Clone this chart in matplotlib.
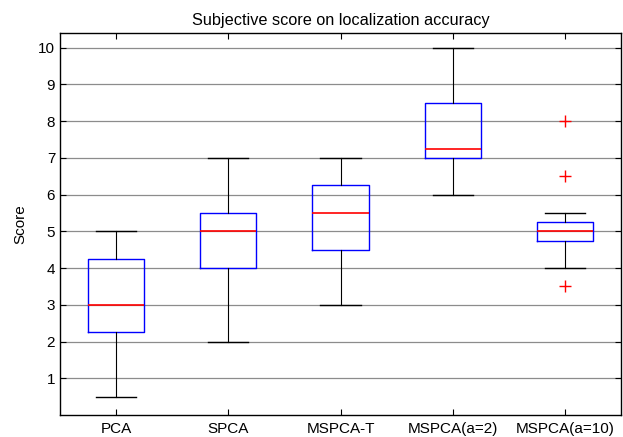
import matplotlib
matplotlib.use("Agg")
import matplotlib.pyplot as plt

categories = ["PCA", "SPCA", "MSPCA-T", "MSPCA(a=2)", "MSPCA(a=10)"]
whislo = [0.5, 2.0, 3.0, 6.0, 4.0]
q1 = [2.25, 4.0, 4.5, 7.0, 4.75]
med = [3.0, 5.0, 5.5, 7.25, 5.0]
q3 = [4.25, 5.5, 6.25, 8.5, 5.25]
whishi = [5.0, 7.0, 7.0, 10.0, 5.5]
fliers = [[], [], [], [], [3.5, 6.5, 8.0]]
yticks = list(range(1, 11))

plt.rcParams['font.family'] = ['Liberation Sans', 'DejaVu Sans']

fig = plt.figure(figsize=(6.23, 4.37), dpi=100)
ax = fig.add_axes([60/623, 1 - 415/437, (621-60)/623, (415-33)/437])

stats = []
for i, c in enumerate(categories):
    stats.append(dict(label=c, whislo=whislo[i], q1=q1[i], med=med[i],
                      q3=q3[i], whishi=whishi[i], fliers=fliers[i]))

ax.bxp(stats, positions=range(1, 6), widths=0.5, showfliers=True,
       boxprops=dict(color='blue', lw=1.0),
       medianprops=dict(color='red', lw=1.2),
       whiskerprops=dict(color='black', lw=0.8, linestyle='-'),
       capprops=dict(color='black', lw=1.0),
       capwidths=0.36,
       flierprops=dict(marker='+', markeredgecolor='red', markersize=8,
                       linestyle='none'))

ax.set_xlim(0.5, 5.5)
ax.set_ylim(0, 10.4)
ax.set_yticks(yticks)
ax.set_xticks(range(1, 6))
ax.set_xticklabels(categories)
ax.yaxis.grid(True, color='0.55', lw=0.9)
ax.set_axisbelow(True)
ax.tick_params(direction='in', top=True, right=True, length=4, labelsize=11, width=0.8)
ax.tick_params(axis='x', pad=5)
for s in ax.spines.values():
    s.set_linewidth(1.0)
ax.set_ylabel("Score", fontsize=11, labelpad=8)
ax.set_title("Subjective score on localization accuracy", fontsize=11.7, pad=6)

fig.savefig("out.png", dpi=100)
